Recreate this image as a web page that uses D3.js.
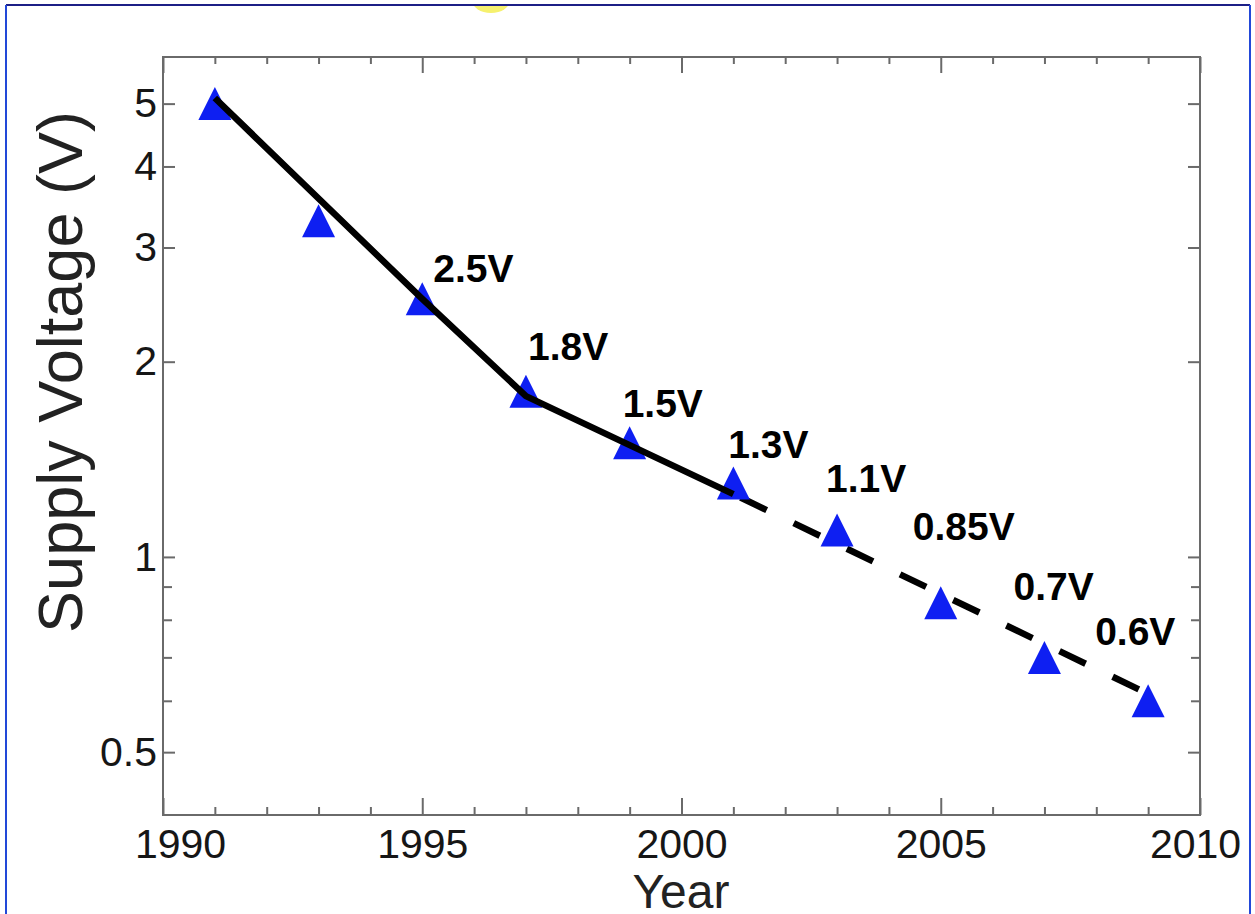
<!DOCTYPE html>
<html>
<head>
<meta charset="utf-8">
<script src="https://cdn.jsdelivr.net/npm/d3@7"></script>
<style>
  body { margin: 0; background: #fff; }
  svg { display: block; }
</style>
</head>
<body>
<div id="chart"></div>
<script>
// === Data ===
const years = [1991, 1993, 1995, 1997, 1999, 2001, 2003, 2005, 2007, 2009];
const voltages = [5, 3.3, 2.5, 1.8, 1.5, 1.3, 1.1, 0.85, 0.7, 0.6];
const labels = [null, null, "2.5V", "1.8V", "1.5V", "1.3V", "1.1V", "0.85V", "0.7V", "0.6V"];

// trend line: solid (measured) then dashed (projected)
const solidYears = [1991, 1995, 1997, 2001];
const solidValues = [5.1, 2.5, 1.77, 1.25];
const dashYears = [2001, 2009];
const dashValues = [1.25, 0.615];

const xMajor = [1990, 1995, 2000, 2005, 2010];
const xMinor = [1991, 1992, 1993, 1994, 1996, 1997, 1998, 1999, 2001, 2002, 2003, 2004, 2006, 2007, 2008, 2009];
const yMajor = [0.5, 1, 2, 3, 4, 5];
const yMinor = [0.6, 0.7, 0.8, 0.9];

// label nudges in px from each point (styling only)
const labelNudge = [null, null, [11, -17], [2, -31], [-7, -26], [-5, -25], [-11, -38], [-28, -63], [-31, -57], [-53, -56]];

// === Layout ===
const width = 1255, height = 914;
const plotLeft = 163, plotRight = 1200, plotTop = 57, plotBottom = 815;

const svg = d3.select("#chart").append("svg")
  .attr("width", width)
  .attr("height", height);

// outer slide frame + yellow blob peeking in at the top
svg.append("defs").append("clipPath").attr("id", "below-top")
  .append("rect").attr("x", 0).attr("y", 5).attr("width", width).attr("height", height);
svg.append("ellipse")
  .attr("cx", 491).attr("cy", 0).attr("rx", 19).attr("ry", 13)
  .attr("fill", "#f6f16e")
  .attr("clip-path", "url(#below-top)");
svg.append("line").attr("x1", 6).attr("x2", 1250).attr("y1", 5).attr("y2", 5)
  .attr("stroke", "#1c1f86").attr("stroke-width", 2);
svg.append("line").attr("x1", 6).attr("x2", 6).attr("y1", 5).attr("y2", height)
  .attr("stroke", "#2248d8").attr("stroke-width", 2);
svg.append("line").attr("x1", 1250).attr("x2", 1250).attr("y1", 5).attr("y2", height)
  .attr("stroke", "#2248d8").attr("stroke-width", 2);

// === Scales ===
const x = d3.scaleLinear().domain([1990, 2010]).range([plotLeft, plotRight]);
const y = d3.scaleLog().domain([0.4, 5.9]).range([plotBottom, plotTop]);

const tickColor = "#6a6a6a";
const fontFamily = "'Liberation Sans', Arial, Helvetica, sans-serif";

function styleAxis(g) {
  g.select(".domain").remove();
  g.selectAll(".tick line").attr("stroke", tickColor).attr("stroke-width", 2);
  g.selectAll(".tick text")
    .attr("fill", "#161616")
    .style("font-family", fontFamily)
    .style("font-size", "41px");
}

// bottom axis
const xAxisG = svg.append("g").attr("transform", `translate(0,${plotBottom})`)
  .call(d3.axisBottom(x).tickValues(xMajor).tickSize(-17).tickPadding(14).tickFormat(d3.format("d")))
  .call(styleAxis);
xAxisG.selectAll(".tick text").attr("dx", (d) => (d === 1990 ? 17 : d === 2010 ? -5 : 0));
svg.append("g").attr("transform", `translate(0,${plotBottom})`)
  .call(d3.axisBottom(x).tickValues(xMinor).tickSize(-8).tickFormat(""))
  .call(styleAxis);

// top axis (ticks only)
svg.append("g").attr("transform", `translate(0,${plotTop})`)
  .call(d3.axisTop(x).tickValues(xMajor).tickSize(-16).tickFormat(""))
  .call(styleAxis);
svg.append("g").attr("transform", `translate(0,${plotTop})`)
  .call(d3.axisTop(x).tickValues(xMinor).tickSize(-7).tickFormat(""))
  .call(styleAxis);

// left axis
svg.append("g").attr("transform", `translate(${plotLeft},0)`)
  .call(d3.axisLeft(y).tickValues(yMajor).tickSize(-12).tickPadding(6).tickFormat(d3.format("")))
  .call(styleAxis);
svg.append("g").attr("transform", `translate(${plotLeft},0)`)
  .call(d3.axisLeft(y).tickValues(yMinor).tickSize(-9).tickFormat(""))
  .call(styleAxis);

// right axis (ticks only)
svg.append("g").attr("transform", `translate(${plotRight},0)`)
  .call(d3.axisRight(y).tickValues(yMajor).tickSize(-12).tickFormat(""))
  .call(styleAxis);
svg.append("g").attr("transform", `translate(${plotRight},0)`)
  .call(d3.axisRight(y).tickValues(yMinor).tickSize(-9).tickFormat(""))
  .call(styleAxis);

// frame
svg.append("rect")
  .attr("x", plotLeft).attr("y", plotTop)
  .attr("width", plotRight - plotLeft).attr("height", plotBottom - plotTop)
  .attr("fill", "none")
  .attr("stroke", tickColor)
  .attr("stroke-width", 2);

// === Lines ===
const line = d3.line().x((d) => x(d[0])).y((d) => y(d[1]));

svg.append("path")
  .datum(d3.zip(dashYears, dashValues))
  .attr("d", line)
  .attr("fill", "none")
  .attr("stroke", "#000")
  .attr("stroke-width", 6.5)
  .attr("stroke-dasharray", "29,30")
  .attr("stroke-dashoffset", 51);

// === Triangles ===
const triangle = {
  draw(ctx, size) {
    const h = Math.sqrt(size);
    ctx.moveTo(0, -h / 2);
    ctx.lineTo(h / 2, h / 2);
    ctx.lineTo(-h / 2, h / 2);
    ctx.closePath();
  }
};
const symbol = d3.symbol().type(triangle).size(33 * 33);

svg.selectAll("path.pt")
  .data(d3.zip(years, voltages))
  .enter()
  .append("path")
  .attr("class", "pt")
  .attr("d", symbol)
  .attr("transform", (d) => `translate(${x(d[0])},${y(d[1])})`)
  .attr("fill", "#0e1ff2");

svg.append("path")
  .datum(d3.zip(solidYears, solidValues))
  .attr("d", line)
  .attr("fill", "none")
  .attr("stroke", "#000")
  .attr("stroke-width", 6.5)
  .attr("stroke-linejoin", "round");

// === Value labels ===
svg.selectAll("text.val")
  .data(years.map((yr, i) => ({ yr, v: voltages[i], label: labels[i], nudge: labelNudge[i] }))
    .filter((d) => d.label))
  .enter()
  .append("text")
  .attr("class", "val")
  .attr("x", (d) => x(d.yr) + d.nudge[0])
  .attr("y", (d) => y(d.v) + d.nudge[1])
  .style("font-family", fontFamily)
  .style("font-size", "39px")
  .style("font-weight", "bold")
  .attr("fill", "#000")
  .text((d) => d.label);

// === Axis titles ===
svg.append("text")
  .attr("transform", "translate(82,372) rotate(-90)")
  .attr("text-anchor", "middle")
  .style("font-family", fontFamily)
  .style("font-size", "63px")
  .attr("fill", "#222")
  .text("Supply Voltage (V)");

svg.append("text")
  .attr("x", 681)
  .attr("y", 908)
  .attr("text-anchor", "middle")
  .style("font-family", fontFamily)
  .style("font-size", "48px")
  .attr("fill", "#222")
  .text("Year");
</script>
</body>
</html>
